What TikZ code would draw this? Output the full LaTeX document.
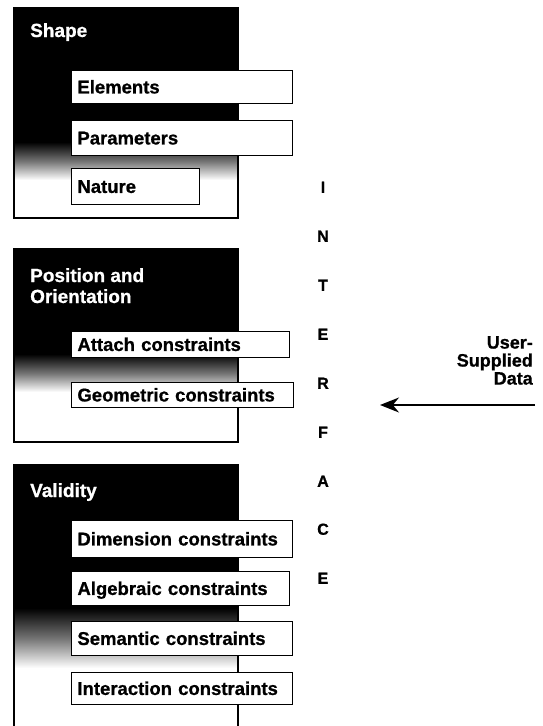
\documentclass[tikz,border=0pt]{standalone}
\usepackage{fontspec}
\setmainfont[BoldFeatures={FakeBold=0.8}]{Liberation Sans}
\usetikzlibrary{arrows.meta}
\begin{document}
\begin{tikzpicture}[x=1pt,y=-1pt,
  panel/.style={draw=black, line width=1.2pt},
  fade/.style={top color=black, bottom color=white, middle color=black!55},
  cbox/.style={draw=black, fill=white, line width=0.9pt, anchor=north west,
    inner xsep=6pt, inner ysep=0pt, align=left, text height=13pt, text depth=0pt,
    font=\fontsize{18.5}{20}\selectfont\bfseries},
  ptitle/.style={text=white, anchor=base west, inner sep=0pt,
    font=\fontsize{19}{21}\selectfont\bfseries},
  iface/.style={inner sep=0pt, text height=11.5pt, text depth=0pt,
    font=\fontsize{16}{17}\selectfont\bfseries},
]
\useasboundingbox (0,0) rectangle (543,726);

% ---- Shape panel
\fill[black] (14,8) rectangle (238,142);
\shade[fade] (14,142) rectangle (238,180);
\draw[panel] (14,8) rectangle (238,218);
\node[ptitle] (shapet) at (30,37) {Shape};
\node[cbox, minimum height=33pt, text width=209pt] (elements) at (71,70) {Elements};
\node[cbox, minimum height=35pt, text width=209pt] (parameters) at (71,120) {Parameters};
\node[cbox, minimum height=36pt, text width=116pt] (nature) at (71,168) {Nature};

% ---- Position and Orientation panel
\fill[black] (14,249) rectangle (238,354);
\shade[fade] (14,354) rectangle (238,392);
\draw[panel] (14,249) rectangle (238,442);
\node[ptitle] (post1) at (30,282) {Position and};
\node[ptitle] (post2) at (30,303) {Orientation};
\node[cbox, minimum height=26pt, text width=206pt] (attach) at (71,331) {Attach constraints};
\node[cbox, minimum height=25pt, text width=210pt] (geometric) at (71,382) {Geometric constraints};

% ---- Validity panel
\fill[black] (14,465) rectangle (238,608);
\shade[fade] (14,608) rectangle (238,668);
\draw[panel] (14,726) -- (14,465) -- (238,465) -- (238,726);
\node[ptitle] (valt) at (30,497) {Validity};
\node[cbox, minimum height=37pt, text width=209pt] (dimension) at (71,520) {Dimension constraints};
\node[cbox, minimum height=34pt, text width=206pt] (algebraic) at (71,571) {Algebraic constraints};
\node[cbox, minimum height=34pt, text width=209pt] (semantic) at (71,621) {Semantic constraints};
\node[cbox, minimum height=32pt, text width=209pt] (interaction) at (71,672) {Interaction constraints};

% ---- INTERFACE column
\node[iface] (i1) at (323,187) {I};
\node[iface] (i2) at (323,236) {N};
\node[iface] (i3) at (323,285) {T};
\node[iface] (i4) at (323,334) {E};
\node[iface] (i5) at (323,383) {R};
\node[iface] (i6) at (323,432) {F};
\node[iface] (i7) at (323,481) {A};
\node[iface] (i8) at (323,529) {C};
\node[iface] (i9) at (323,578) {E};

% ---- User-supplied data
\node[anchor=north east, inner sep=0pt, align=right,
  font=\fontsize{18}{18}\selectfont\bfseries] (usd) at (533,336) {User-\\Supplied\\Data};
\coordinate (arrstart) at (535,405);
\coordinate (arrend) at (380,405);
\draw[line width=1.6pt, -{Stealth[length=19pt,width=15pt]}] (arrstart) -- (arrend);
\end{tikzpicture}
\end{document}
